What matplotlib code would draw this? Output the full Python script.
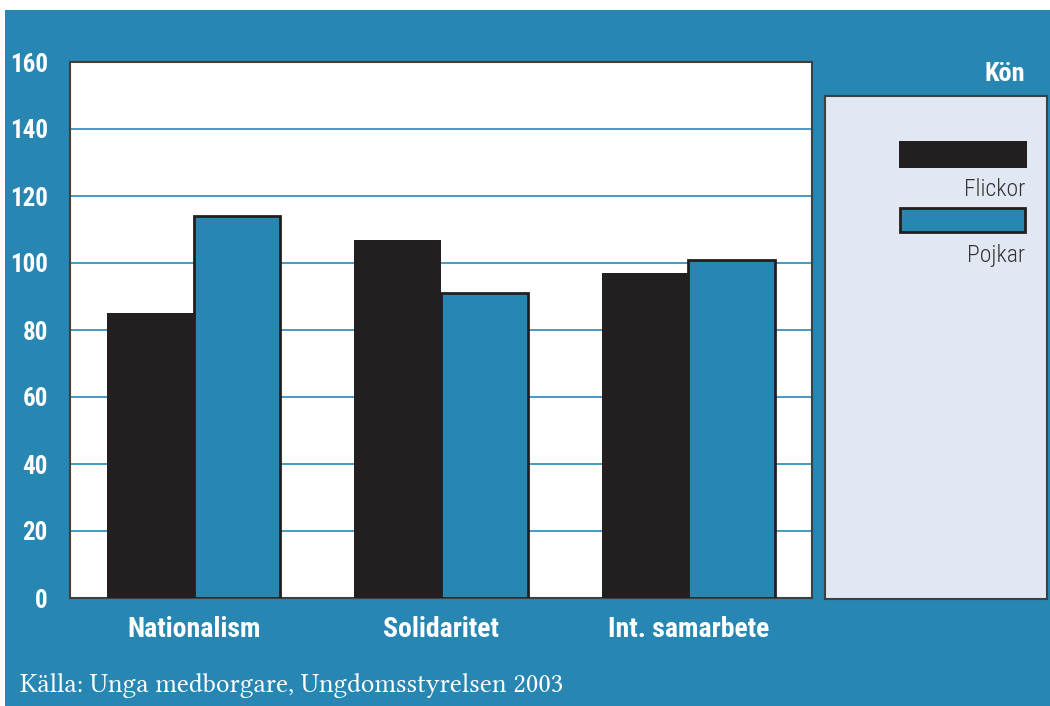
import numpy as np
import matplotlib
matplotlib.use("Agg")
import matplotlib.pyplot as plt
from matplotlib.patches import Rectangle

# ── Data ──────────────────────────────────────────────────────────────────────
categories = ["Nationalism", "Solidaritet", "Int. samarbete"]
flickor = [85, 107, 97]
pojkar = [114, 91, 101]
series_names = ["Flickor", "Pojkar"]
yticks = [0, 20, 40, 60, 80, 100, 120, 140, 160]
legend_title = "Kön"
source = "Källa: Unga medborgare, Ungdomsstyrelsen 2003"

BLUE = "#2886b2"
BLACK = "#231f20"
LEGBG = "#e1e8f3"
COND = ["Roboto Condensed", "Archivo Narrow", "DejaVu Sans"]
SERIF = ["Libertinus Serif", "Liberation Serif", "DejaVu Serif"]

W, H = 1050, 706
fig = plt.figure(figsize=(W / 100, H / 100), dpi=100)
fig.patch.set_facecolor("white")

def fx(px):
    return px / W

def fy(py):
    return 1 - py / H

# blue panel background (white margin top and left)
fig.patches.append(Rectangle((fx(5), 0), 1 - fx(5), fy(10), transform=fig.transFigure,
                             facecolor=BLUE, edgecolor="none", zorder=-5))

# ── Main chart ────────────────────────────────────────────────────────────────
ax = fig.add_axes([fx(70), fy(598), fx(812) - fx(70), fy(62) - fy(598)])
ax.set_facecolor("white")
x = np.arange(len(categories))
w = 0.35
ax.bar(x - w / 2, flickor, w, color=BLACK, edgecolor="none", zorder=3)
ax.bar(x + w / 2, pojkar, w, color=BLUE, edgecolor=BLACK, linewidth=2, zorder=3)
ax.set_xlim(-0.5, len(categories) - 0.5)
ax.set_ylim(0, 160)
ax.set_yticks(yticks)
ax.set_yticklabels([str(v) for v in yticks], color="white", fontsize=18,
                   fontweight="bold", family=COND)
ax.set_xticks(x)
ax.set_xticklabels(categories, color="white", fontsize=20, fontweight="bold", family=COND)
ax.tick_params(axis="both", length=0)
ax.tick_params(axis="y", pad=16)
ax.tick_params(axis="x", pad=13)
ax.yaxis.grid(True, color="#3592c0", linewidth=1.3, zorder=0)
ax.set_axisbelow(True)
for s in ax.spines.values():
    s.set_color("#404040")
    s.set_linewidth(1.5)

# ── Legend box ────────────────────────────────────────────────────────────────
lax = fig.add_axes([fx(825), fy(599), fx(1047) - fx(825), fy(96) - fy(599)])
lax.set_facecolor(LEGBG)
lax.set_xticks([])
lax.set_yticks([])
for s in lax.spines.values():
    s.set_color("#404040")
    s.set_linewidth(1.5)
lax.set_xlim(825, 1047)
lax.set_ylim(599, 96)
lax.add_patch(Rectangle((899, 141), 128, 27, facecolor=BLACK, edgecolor="none"))
lax.add_patch(Rectangle((900, 208), 125, 24, facecolor=BLUE, edgecolor=BLACK, linewidth=2))
lax.text(1025, 189, series_names[0], ha="right", va="center", fontsize=17,
         fontweight="light", color="#333333", family=COND)
lax.text(1025, 255, series_names[1], ha="right", va="center", fontsize=17,
         fontweight="light", color="#333333", family=COND)

fig.text(fx(1025), fy(74), legend_title, ha="right", va="center", fontsize=19,
         fontweight="bold", color="white", family=COND)
fig.text(fx(20), fy(686), source, ha="left", va="center", fontsize=19.5,
         color="white", family=SERIF)

fig.savefig("out.png", dpi=100)
